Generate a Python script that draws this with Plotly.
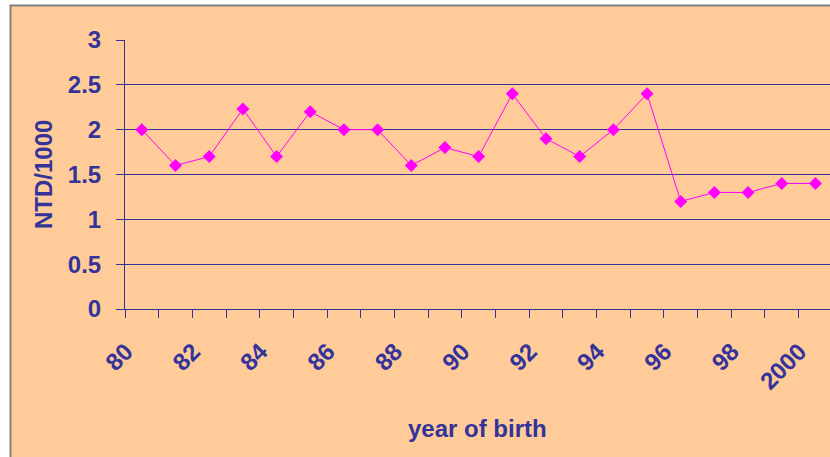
import plotly.graph_objects as go

# NTD rate per 1000 births, by year of birth
years = list(range(1980, 2001))
ntd_rate = [2.0, 1.6, 1.7, 2.23, 1.7, 2.2, 2.0, 2.0, 1.6, 1.8, 1.7,
            2.4, 1.9, 1.7, 2.0, 2.4, 1.2, 1.3, 1.3, 1.4, 1.4]

tick_years = list(range(1980, 2001, 2))
tick_labels = ["80", "82", "84", "86", "88", "90", "92", "94", "96", "98", "2000"]
y_ticks = [0, 0.5, 1, 1.5, 2, 2.5, 3]

NAVY = "#333399"
PEACH = "#FFCC99"
FONT = "Liberation Sans, Arial, sans-serif"

# plot-area geometry in pixels (used to place paper-referenced items)
W, H = 830, 457
L, R, T, B = 125, 0, 40, 148
PW, PH = W - L - R, H - T - B
YEAR_PX = 33.68              # width of one year slot
LABEL_SHIFT = -16 / YEAR_PX  # rotated labels end a little left of their slot centre


def px_x(p):
    return (p - L) / PW


def px_y(p):
    return (H - B - p) / PH


fig = go.Figure()
fig.add_trace(go.Scatter(
    x=years, y=ntd_rate, mode="lines+markers",
    line=dict(color="#FF00FF", width=1),
    marker=dict(symbol="diamond", size=10, color="#FF00FF", line=dict(width=0)),
    showlegend=False,
))

# chart-area panel with its grey frame
fig.add_shape(type="rect", xref="paper", yref="paper", layer="below",
              x0=px_x(10.5), x1=px_x(1000), y0=px_y(700), y1=px_y(5.5),
              fillcolor=PEACH, line=dict(color="#808080", width=2))

fig.update_layout(
    width=W, height=H,
    margin=dict(l=L, r=R, t=T, b=B, pad=0),
    paper_bgcolor="white",
    plot_bgcolor="rgba(0,0,0,0)",
    font=dict(family=FONT, color=NAVY, size=22, weight="bold"),
    xaxis=dict(
        range=[1979.5, 1979.5 + PW / YEAR_PX],
        tickmode="array", tickvals=[y + LABEL_SHIFT for y in tick_years],
        ticktext=tick_labels,
        tickangle=-45, ticks="", ticklabelstandoff=18,
        tickfont=dict(size=24, color=NAVY, family=FONT, weight="bold"),
        showgrid=False, zeroline=False,
        showline=True, linecolor=NAVY, linewidth=1,
        minor=dict(tick0=1979.5, dtick=1, ticks="outside", ticklen=8,
                   tickcolor=NAVY, tickwidth=1, showgrid=False),
    ),
    yaxis=dict(
        range=[0, 3], tickmode="array", tickvals=y_ticks,
        ticktext=[f"{v:g}" for v in y_ticks],
        ticks="outside", ticklen=8, tickcolor=NAVY, tickwidth=1,
        ticklabelstandoff=10,
        tickfont=dict(size=24, color=NAVY, family=FONT, weight="bold"),
        showgrid=True, gridcolor=NAVY, gridwidth=1,
        zeroline=False, showline=True, linecolor=NAVY, linewidth=1,
    ),
    annotations=[
        dict(text="NTD/1000", xref="paper", yref="paper",
             x=px_x(43), y=px_y(175), textangle=-90, showarrow=False,
             xanchor="center", yanchor="middle",
             font=dict(size=24, color=NAVY, family=FONT, weight="bold")),
        dict(text="year of birth", xref="paper", yref="paper",
             x=px_x(478), y=px_y(428), showarrow=False,
             xanchor="center", yanchor="middle",
             font=dict(size=24, color=NAVY, family=FONT, weight="bold")),
    ],
)

fig.write_html("out.html")
